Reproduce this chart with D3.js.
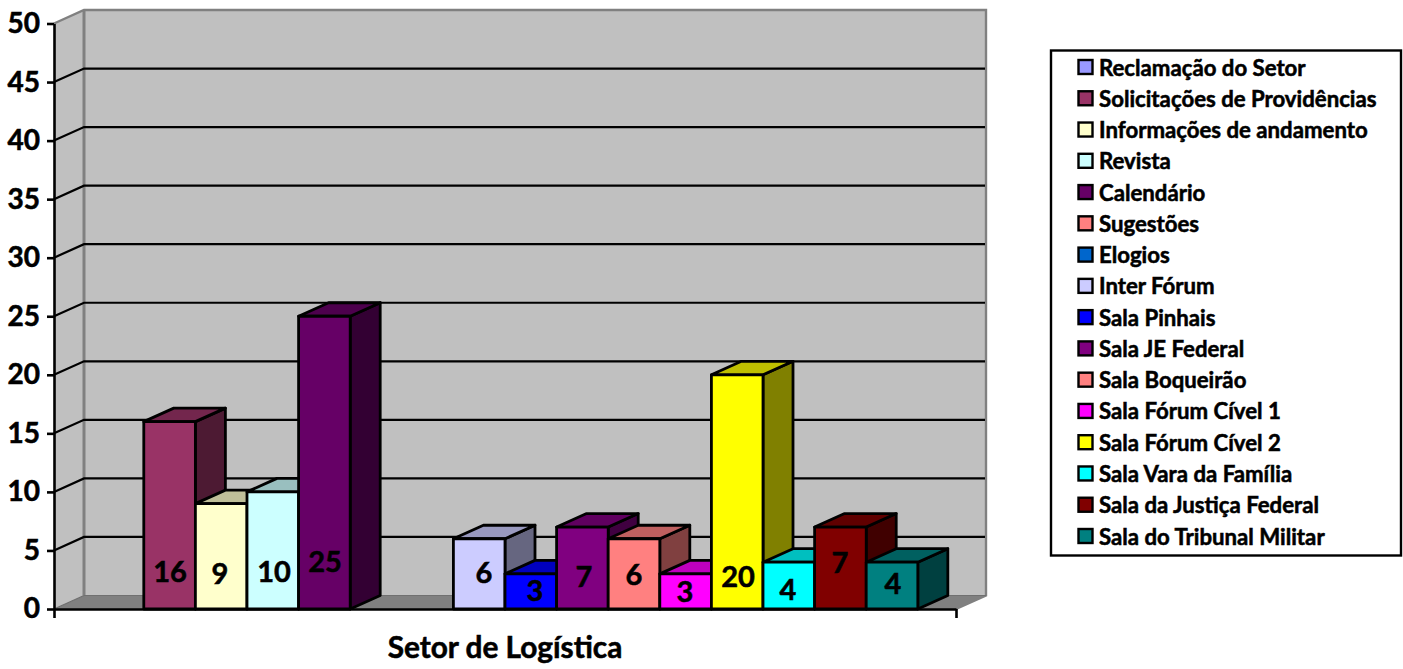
<!DOCTYPE html>
<html><head><meta charset="utf-8">
<script src="https://cdn.jsdelivr.net/npm/d3@7/dist/d3.min.js"></script>
<style>html,body{margin:0;padding:0;background:#fff}svg{display:block}text{font-family:Lato,"Open Sans",sans-serif;font-weight:700;fill:#000;stroke:#000;stroke-width:.55px}</style>
</head><body><svg id="c" width="1403" height="669"></svg>
<script>
const categories=["Reclamação do Setor","Solicitações de Providências","Informações de andamento","Revista","Calendário","Sugestões","Elogios","Inter Fórum","Sala Pinhais","Sala JE Federal","Sala Boqueirão","Sala Fórum Cível 1","Sala Fórum Cível 2","Sala Vara da Família","Sala da Justiça Federal","Sala do Tribunal Militar"];
const values=[0,16,9,10,25,0,0,6,3,7,6,3,20,4,7,4];
const colors=["#9999ff","#993366","#ffffcc","#ccffff","#660066","#ff8080","#0066cc","#ccccff","#0000ff","#800080","#ff8080","#ff00ff","#ffff00","#00ffff","#800000","#008080"];
const labelCenterY=[0,570,572,570,560,0,0,571,589,575,573,590,575,588,561,582];
const labelCenterX=[0,170,220,274,325,0,0,484,535,584,634,685,738,788,840,893];
const yTicks=[0,5,10,15,20,25,30,35,40,45,50];
const xTitle="Setor de Logística";

const svg=d3.select("#c");
const dx=30,dy=-13.5;
const x0=54,x1=956,yBase=609,yTop=23.5;
const y=d3.scaleLinear().domain([0,50]).range([yBase,yTop]);
const x=d3.scaleBand().domain(categories).range([x0,x1]).paddingInner(0).paddingOuter(0.74);
const poly=p=>p.map(q=>q.join(",")).join(" ");

// walls and floor
svg.append("polygon").attr("points",poly([[x0,y(50)],[x0+dx,y(50)+dy],[x0+dx,yBase+dy],[x0,yBase]])).attr("fill","#c0c0c0");
svg.append("rect").attr("x",x0+dx).attr("y",y(50)+dy).attr("width",x1-x0).attr("height",yBase-y(50)).attr("fill","#c0c0c0");
svg.append("polygon").attr("points",poly([[x0,yBase],[x0+dx,yBase+dy],[x1+dx,yBase+dy],[x1,yBase]])).attr("fill","#808080");
// wall edges
svg.append("polyline").attr("fill","none").attr("stroke","#808080").attr("stroke-width",2.4)
  .attr("points",poly([[x0,y(50)],[x0+dx,y(50)+dy],[x1+dx,y(50)+dy],[x1+dx,yBase+dy],[x1,yBase]]));
svg.append("line").attr("x1",x0+dx).attr("x2",x0+dx).attr("y1",y(50)+dy).attr("y2",yBase+dy).attr("stroke","#808080").attr("stroke-width",3);
svg.append("line").attr("x1",x0).attr("x2",x0+dx).attr("y1",yBase).attr("y2",yBase+dy).attr("stroke","#6e6e6e").attr("stroke-width",1.2);
svg.append("line").attr("x1",x0+dx).attr("x2",x1+dx).attr("y1",yBase+dy).attr("y2",yBase+dy).attr("stroke","#707070").attr("stroke-width",1.2);

// gridlines
const grid=svg.append("g").attr("fill","none").attr("stroke","#000").attr("stroke-width",2.2);
yTicks.filter(t=>t>0&&t<50).forEach(t=>{
  grid.append("polyline").attr("points",poly([[x0,y(t)],[x0+dx,y(t)+dy],[x1+dx-1,y(t)+dy]]));
});

// bars, left to right so later bars overlap earlier ones
const bars=svg.append("g").attr("stroke","#000").attr("stroke-width",2.8).attr("stroke-linejoin","round");
categories.forEach((c,i)=>{
  const v=values[i]; if(!v) return;
  const a=x(c),b=a+x.bandwidth(),t=y(v),col=d3.color(colors[i]);
  const shade=k=>d3.rgb(col.r*k,col.g*k,col.b*k).formatHex();
  bars.append("polygon").attr("fill",shade(.5)).attr("points",poly([[b,yBase],[b+dx,yBase+dy],[b+dx,t+dy],[b,t]]));
  bars.append("polygon").attr("fill",shade(.75)).attr("points",poly([[a,t],[a+dx,t+dy],[b+dx,t+dy],[b,t]]));
  bars.append("rect").attr("x",a).attr("y",t).attr("width",b-a).attr("height",yBase-t).attr("fill",colors[i]);
});

// value labels
categories.forEach((c,i)=>{
  if(!values[i]) return;
  svg.append("text").attr("x",labelCenterX[i]).attr("y",labelCenterY[i]).attr("text-anchor","middle")
    .attr("dominant-baseline","central").attr("font-size",29).text(values[i]);
});

// axes
const ay=svg.append("g").attr("transform",`translate(${x0},0)`).call(d3.axisLeft(y).tickValues(yTicks).tickSize(7).tickSizeOuter(0).tickPadding(7));
ay.selectAll("path,line").attr("stroke","#000").attr("stroke-width",2.6);
ay.selectAll("text").style("font-family","Lato,'Open Sans',sans-serif").style("font-weight",700).attr("font-size",28).attr("fill","#000");
const ax=svg.append("g").attr("transform",`translate(0,${yBase})`).call(d3.axisBottom(d3.scaleLinear().domain([x0,x1]).range([x0,x1])).tickValues([x0,x1]).tickSize(9).tickSizeOuter(0).tickFormat(""));
ax.selectAll("path,line").attr("stroke","#000").attr("stroke-width",2.6);

svg.append("text").attr("x",505).attr("y",658).attr("text-anchor","middle").attr("font-size",29.8).text(xTitle);

// legend
svg.append("rect").attr("x",1051).attr("y",50.5).attr("width",350).attr("height",505).attr("fill","#fff").attr("stroke","#000").attr("stroke-width",2.4);
const rowY=d3.scalePoint().domain(categories).range([67,536]);
const leg=svg.append("g").selectAll("g").data(categories).join("g").attr("transform",d=>`translate(0,${rowY(d)})`);
leg.append("rect").attr("x",1078.5).attr("y",-7).attr("width",14).attr("height",14).attr("fill",(d,i)=>colors[i]).attr("stroke","#000").attr("stroke-width",2.4);
leg.append("text").attr("x",1099).attr("y",0).attr("dominant-baseline","central").attr("font-size",22.2).text(d=>d);
</script></body></html>
